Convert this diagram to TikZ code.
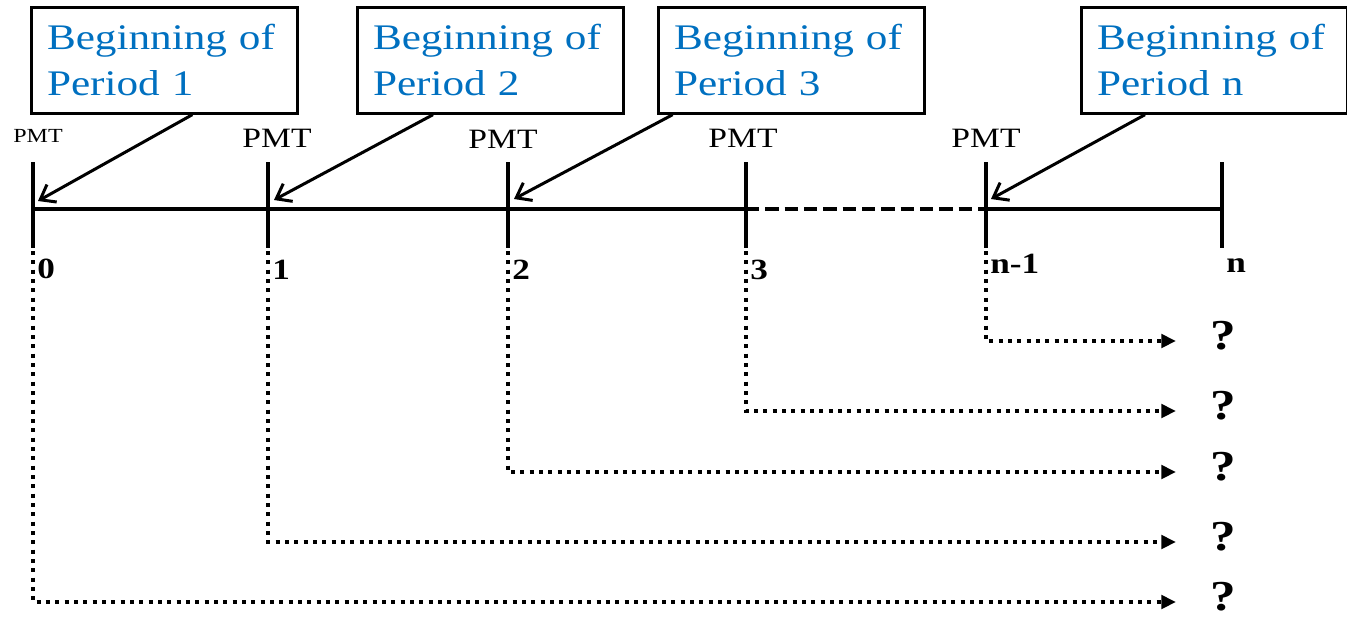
\documentclass[tikz,border=0pt]{standalone}
\usepackage{fontspec}
\setmainfont{Liberation Serif}[FakeStretch=1.2]
\usetikzlibrary{arrows.meta}
\definecolor{boxblue}{RGB}{0,112,192}
\tikzset{
  periodbox/.style={draw,line width=2pt,anchor=north west,align=left,
    text width=176pt,inner xsep=11.75pt,minimum height=79.5pt,
    text=boxblue,font=\fontsize{27}{34.5}\selectfont},
  axis/.style={line width=3pt},
  pointer/.style={line width=2.25pt,-{Straight Barb[length=10pt,width=15pt]}},
  flow/.style={line width=3pt,dash pattern=on 3pt off 4pt,
    -{Triangle[length=11pt,width=10pt]}},
  pmt/.style={font=\fontsize{21}{24}\selectfont},
  num/.style={anchor=west,inner sep=0pt,font=\fontsize{22}{26}\selectfont\bfseries},
  ask/.style={inner sep=0pt,font=\fontsize{32}{36}\selectfont\bfseries}
}
\begin{document}
\begin{tikzpicture}[x=0.75pt,y=-0.75pt]
\useasboundingbox (0,0) rectangle (1347,619);
\def\ty{209}
\node[periodbox] (b1) at (30,6) {Beginning of\\Period 1};
\node[periodbox] (b2) at (356,6) {Beginning of\\Period 2};
\node[periodbox] (b3) at (657,6) {Beginning of\\Period 3};
\node[periodbox] (b4) at (1080,6) {Beginning of\\Period n};

\foreach \n/\x/\lab/\ly in {0/33/0/269,1/268/1/270,2/508/2/270,3/746/3/270,m/986/n-1/264,n/1222/n/266} {
  \coordinate (t\n) at (\x,\ty);
  \coordinate (d\n) at (\x,251);
  \draw[axis] (\x,162) -- (\x,248);
  \node[num] (l\n) at (\x+4,\ly) {\lab};
}
\draw[axis] (t0) -- (t3);
\draw[axis,dash pattern=on 10pt off 4.5pt] (t3) -- (tm);
\draw[axis] (tm) -- (tn);

\node[font=\fontsize{15}{18}\selectfont] (p0) at (38,136) {PMT};
\node[pmt] (p1) at (277,138) {PMT};
\node[pmt] (p2) at (503,139) {PMT};
\node[pmt] (p3) at (743,138) {PMT};
\node[pmt] (p4) at (986,138) {PMT};

\draw[pointer] ([xshift=21pt]b1.south) -- ([shift={(5,-8)}]t0);
\draw[pointer] ([xshift=-43pt]b2.south) -- ([shift={(6,-9)}]t1);
\draw[pointer] ([xshift=-89pt]b3.south) -- ([shift={(6,-10)}]t2);
\draw[pointer] ([xshift=-52pt]b4.south) -- ([shift={(5,-10)}]tm);

\foreach \n/\ry in {m/341,3/411,2/472,1/542,0/602} {
  \coordinate (e\n) at (1176,\ry);
  \node[ask] (q\n) at (1223,\ry-5) {?};
  \draw[flow] (d\n) |- (e\n);
}
\end{tikzpicture}
\end{document}
